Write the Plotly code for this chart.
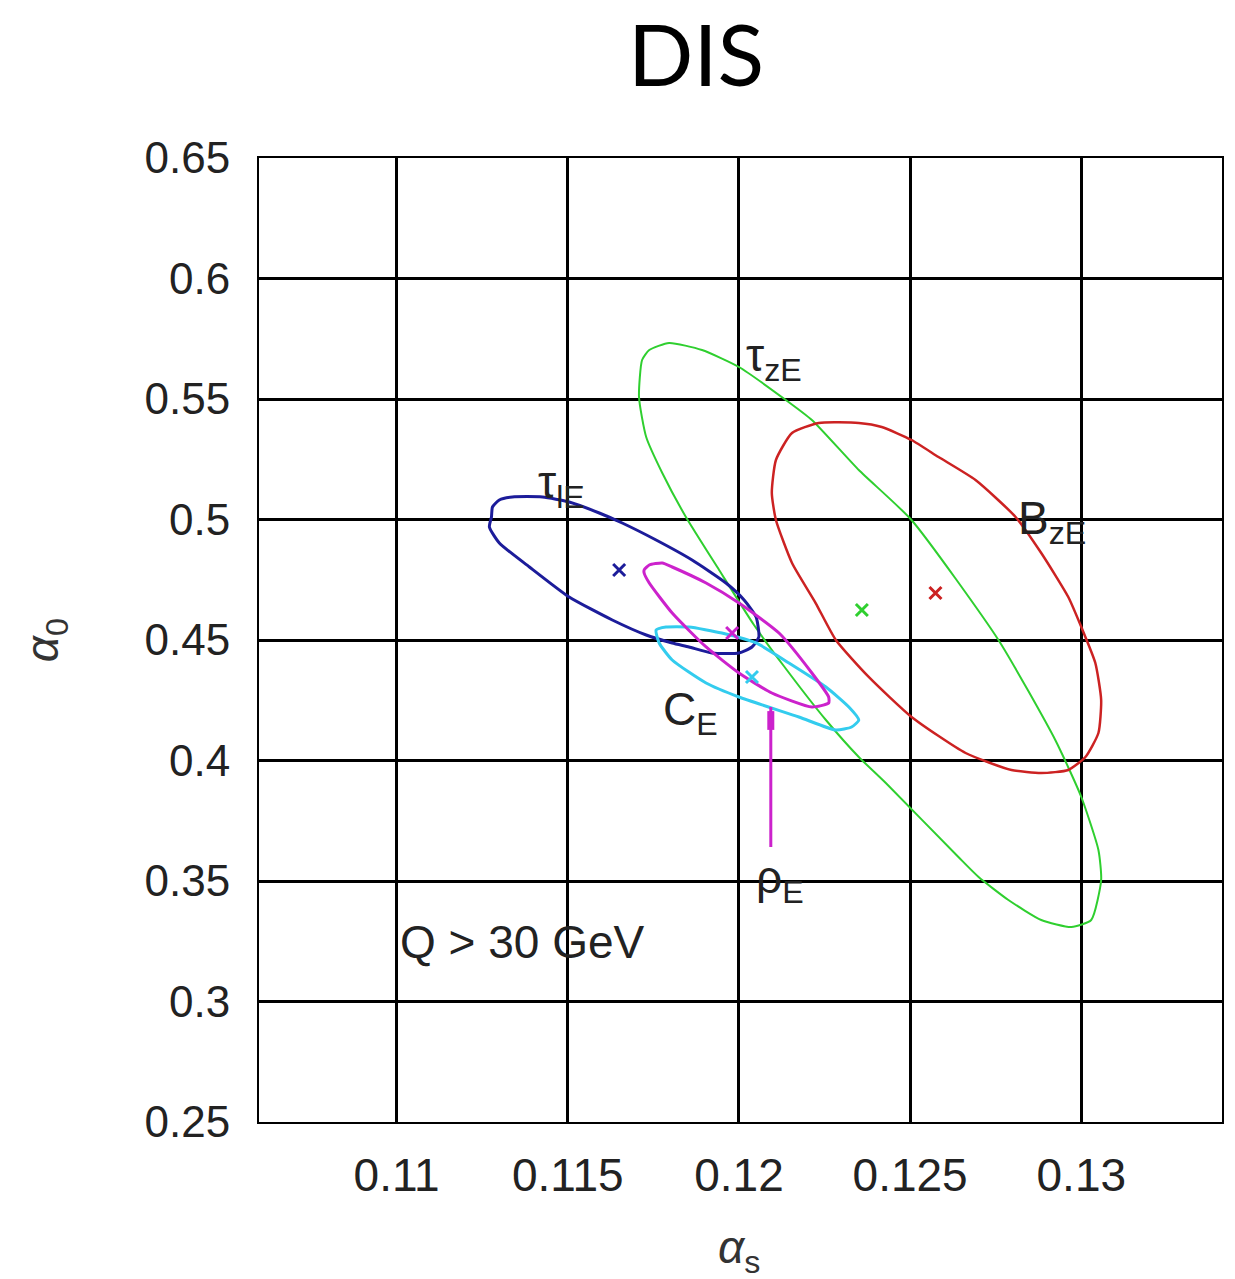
import plotly.graph_objects as go

# ---- data ----
x_ticks = [0.11, 0.115, 0.12, 0.125, 0.13]
x_tick_text = ["0.11", "0.115", "0.12", "0.125", "0.13"]
y_ticks = [0.25, 0.30, 0.35, 0.40, 0.45, 0.50, 0.55, 0.60, 0.65]
y_tick_text = ["0.25", "0.3", "0.35", "0.4", "0.45", "0.5", "0.55", "0.6", "0.65"]

tauz_x = [0.12213, 0.12350, 0.12504, 0.12758, 0.12924, 0.13000, 0.13050, 0.13058, 0.13029, 0.12971,
          0.12883, 0.12787, 0.12700, 0.12641, 0.12429, 0.12350, 0.12254, 0.12131, 0.12044, 0.11942,
          0.11845, 0.11776, 0.11729, 0.11708, 0.11717, 0.11738, 0.11796, 0.11892, 0.12000, 0.12137, 0.12213]
tauz_y = [0.54129, 0.52054, 0.49979, 0.45000, 0.40851, 0.38486, 0.36286, 0.35042, 0.33382, 0.33091,
          0.33382, 0.34212, 0.35166, 0.35996, 0.39066, 0.40145, 0.41680, 0.43921, 0.45622, 0.47905,
          0.50104, 0.51929, 0.53423, 0.55083, 0.56618, 0.57033, 0.57324, 0.57033, 0.56328, 0.54959, 0.54129]

bz_x = [0.12350, 0.12417, 0.12504, 0.12583, 0.12691, 0.12808, 0.12883, 0.12962, 0.13000, 0.13041,
        0.13058, 0.13050, 0.13012, 0.12962, 0.12883, 0.12796, 0.12662, 0.12504, 0.12379, 0.12283,
        0.12224, 0.12155, 0.12108, 0.12096, 0.12108, 0.12155, 0.12233, 0.12350]
bz_y = [0.54004, 0.53838, 0.53299, 0.52593, 0.51639, 0.50104, 0.48610, 0.46784, 0.45539, 0.44046,
        0.42510, 0.41141, 0.40145, 0.39606, 0.39481, 0.39606, 0.40311, 0.41805, 0.43465, 0.45000,
        0.46535, 0.48195, 0.49979, 0.51100, 0.52469, 0.53589, 0.54004, 0.54004]

taul_x = [0.11280, 0.11300, 0.11338, 0.11426, 0.11504, 0.11592, 0.11659, 0.11758, 0.11863, 0.11962,
          0.12015, 0.12050, 0.12058, 0.12038, 0.12000, 0.11921, 0.11854, 0.11805, 0.11729, 0.11630,
          0.11504, 0.11388, 0.11300, 0.11271, 0.11277, 0.11280]
taul_y = [0.50519, 0.50809, 0.50934, 0.50934, 0.50726, 0.50270, 0.49855, 0.49149, 0.48320, 0.47365,
          0.46660, 0.45954, 0.45124, 0.44710, 0.44461, 0.44461, 0.44710, 0.44876, 0.45207, 0.45830,
          0.46784, 0.48029, 0.49025, 0.49689, 0.50104, 0.50519]

rho_x = [0.11723, 0.11738, 0.11776, 0.11805, 0.11904, 0.12000, 0.12117, 0.12213, 0.12262, 0.12262,
         0.12213, 0.12096, 0.12000, 0.11904, 0.11805, 0.11738, 0.11723, 0.11723]
rho_y = [0.47905, 0.48112, 0.48195, 0.48029, 0.47365, 0.46535, 0.45290, 0.43631, 0.42635, 0.42386,
         0.42220, 0.42801, 0.43631, 0.44710, 0.46120, 0.47365, 0.47780, 0.47905]

c_x = [0.11758, 0.11787, 0.11854, 0.11950, 0.12050, 0.12146, 0.12254, 0.12321, 0.12350, 0.12329,
       0.12283, 0.12175, 0.12000, 0.11904, 0.11805, 0.11767, 0.11758]
c_y = [0.45415, 0.45539, 0.45539, 0.45290, 0.44876, 0.44046, 0.43050, 0.42220, 0.41680, 0.41390,
       0.41266, 0.41805, 0.42635, 0.43216, 0.44170, 0.44876, 0.45415]

best_x = [0.11650, 0.11980, 0.12038, 0.12359, 0.12574]
best_y = [0.47905, 0.45290, 0.43465, 0.46245, 0.46950]

rho_arrow_x = [0.12093, 0.12093]
rho_arrow_y = [0.4222, 0.3641]
rho_arrow_head_y = [0.4205, 0.4127]

# ---- styling ----
GREEN = "#2fcf2f"
RED = "#cc2222"
BLUE = "#1c1c9a"
MAGENTA = "#cc22cc"
CYAN = "#33ccee"
best_colors = [BLUE, MAGENTA, CYAN, GREEN, RED]
FONT = "Liberation Sans, Arial, sans-serif"

fig = go.Figure()

def contour(xs, ys, color, width):
    fig.add_trace(go.Scatter(x=xs, y=ys, mode="lines",
                             line=dict(color=color, width=width, shape="spline", smoothing=0.55),
                             hoverinfo="skip"))

contour(tauz_x, tauz_y, GREEN, 2)
contour(bz_x, bz_y, RED, 2.5)
contour(taul_x, taul_y, BLUE, 3)
contour(c_x, c_y, CYAN, 3)
contour(rho_x, rho_y, MAGENTA, 3)

fig.add_trace(go.Scatter(x=rho_arrow_x, y=rho_arrow_y, mode="lines", line=dict(color=MAGENTA, width=3)))
fig.add_trace(go.Scatter(x=rho_arrow_x, y=rho_arrow_head_y, mode="lines", line=dict(color=MAGENTA, width=7)))

fig.add_trace(go.Scatter(x=best_x, y=best_y, mode="markers",
                         marker=dict(symbol="x-thin", size=12, color=best_colors,
                                     line=dict(color=best_colors, width=3))))

labels = [
    (0.12015, 0.5670, "τ<sub>zE</sub>"),
    (0.11408, 0.5143, "τ<sub>lE</sub>"),
    (0.12808, 0.4993, "B<sub>zE</sub>"),
    (0.11773, 0.4201, "C<sub>E</sub>"),
    (0.12044, 0.3504, "ρ<sub>E</sub>"),
    (0.11003, 0.3247, "Q &gt; 30 GeV"),
]
for lx, ly, txt in labels:
    fig.add_annotation(x=lx, y=ly, xref="x", yref="y", text=txt, showarrow=False,
                       xanchor="left", yanchor="middle",
                       font=dict(family=FONT, size=46, color="#222222"))

fig.add_annotation(x=0.4539, y=1.1635, xref="paper", yref="paper", text="DIS", showarrow=False,
                   xanchor="center", yanchor="top", borderpad=0,
                   font=dict(family="Lato, sans-serif", size=86, color="black"))
fig.add_annotation(x=0.4984, y=-0.133, xref="paper", yref="paper", text="<i>α</i><sub>s</sub>", showarrow=False,
                   xanchor="center", yanchor="middle", font=dict(family=FONT, size=46, color="#333333"))
fig.add_annotation(x=-0.222, y=0.5, xref="paper", yref="paper", text="<i>α</i><sub>0</sub>", showarrow=False,
                   textangle=-90, xanchor="center", yanchor="middle", font=dict(family=FONT, size=46, color="#333333"))

fig.update_layout(
    width=1235, height=1279,
    margin=dict(l=259, r=11, t=158, b=157),
    plot_bgcolor="white", paper_bgcolor="white",
    showlegend=False,
    xaxis=dict(range=[0.10598, 0.13411], tickvals=x_ticks, ticktext=x_tick_text,
               showgrid=True, gridcolor="black", gridwidth=3, zeroline=False,
               showline=True, linecolor="black", linewidth=2, mirror=True, ticks="",
               ticklabelstandoff=12, tickfont=dict(family=FONT, size=46, color="#222222")),
    yaxis=dict(range=[0.25, 0.65], tickvals=y_ticks, ticktext=y_tick_text,
               showgrid=True, gridcolor="black", gridwidth=3, zeroline=False,
               showline=True, linecolor="black", linewidth=2, mirror=True, ticks="",
               ticklabelstandoff=18, tickfont=dict(family=FONT, size=44, color="#222222")),
)

fig.write_html("out.html")
